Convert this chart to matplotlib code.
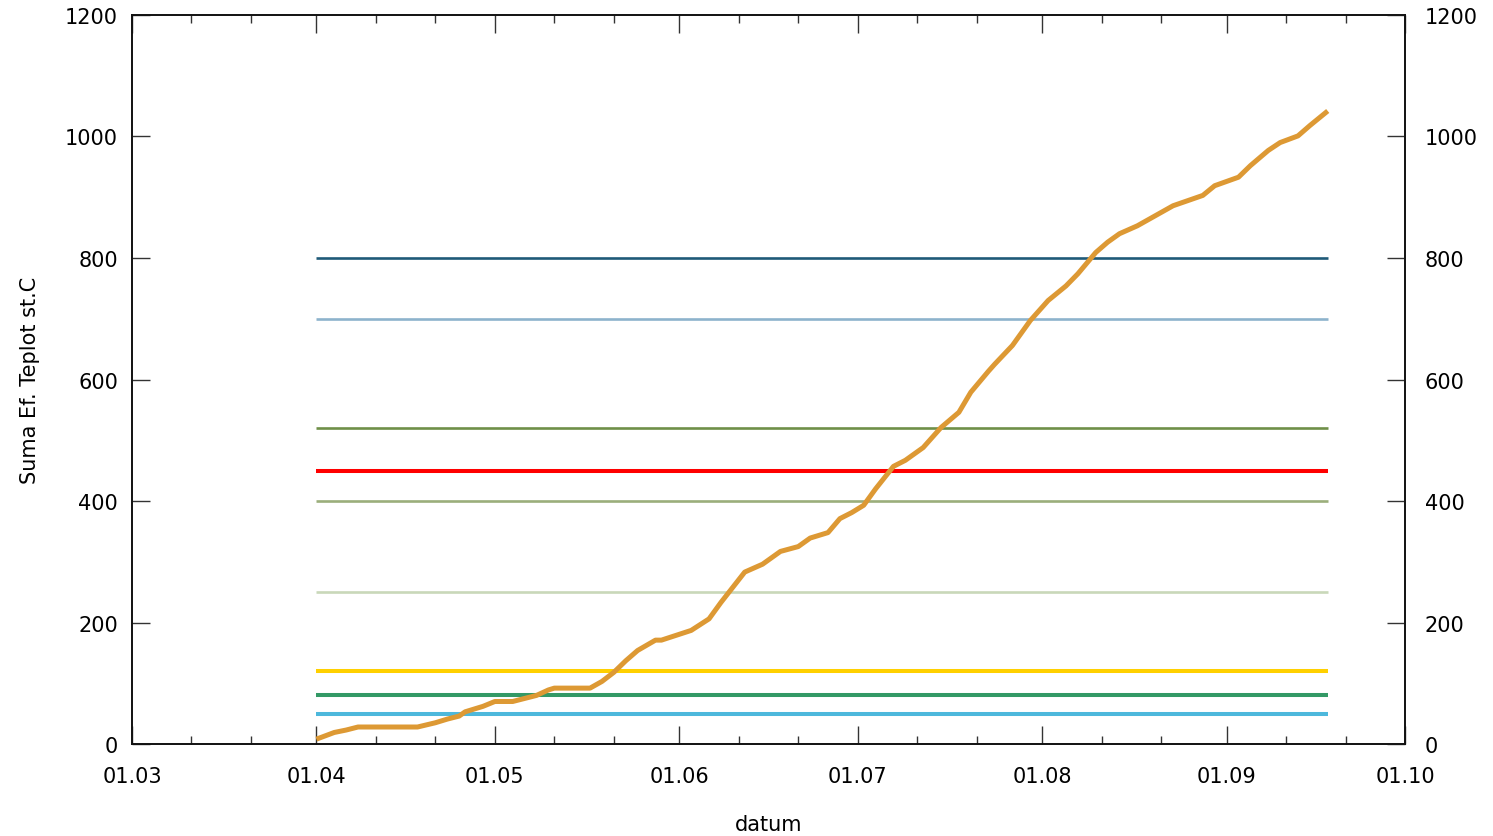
import matplotlib
matplotlib.use("Agg")
import matplotlib.pyplot as plt
import matplotlib.dates as mdates
import numpy as np
import pandas as pd

plt.rcParams["font.family"] = ["DejaVu Sans"]

# cumulative effective temperature sum
sum_dates = ["04-01", "04-04", "04-06", "04-08", "04-18", "04-21", "04-23", "04-25",
             "04-26", "04-29", "05-01", "05-04", "05-08", "05-10", "05-11", "05-17",
             "05-19", "05-21", "05-23", "05-25", "05-28", "05-29", "06-03", "06-06",
             "06-08", "06-10", "06-12", "06-15", "06-18", "06-21", "06-23", "06-26",
             "06-28", "06-30", "07-02", "07-04", "07-07", "07-09", "07-12", "07-15",
             "07-18", "07-20", "07-23", "07-24", "07-27", "07-30", "08-02", "08-05",
             "08-07", "08-10", "08-12", "08-14", "08-17", "08-19", "08-23", "08-28",
             "08-30", "09-03", "09-05", "09-08", "09-10", "09-13", "09-15", "09-18"]
sum_values = [8, 19, 23, 28, 28, 35, 41, 46,
              53, 62, 70, 70, 80, 89, 92, 92,
              103, 118, 137, 154, 171, 171, 187, 206,
              233, 258, 283, 296, 317, 325, 339, 348,
              371, 381, 393, 420, 457, 467, 488, 521,
              546, 579, 614, 625, 656, 697, 730, 754,
              774, 809, 826, 840, 853, 864, 886, 903,
              919, 933, 952, 977, 990, 1001, 1018, 1042]

# threshold lines
levels = [800, 700, 520, 450, 400, 250, 120, 80, 50]
level_colors = ["#1f5a78", "#8db3cc", "#6f8f48", "#ff0000", "#9bae7b",
                "#c9d8b9", "#ffd000", "#339966", "#4db8dc"]
level_widths = [1.9, 1.9, 1.9, 2.9, 1.9, 1.9, 2.9, 2.9, 2.9]
level_start = "04-01"
level_end = "09-18"

YEAR = "2019-"
x = pd.to_datetime([YEAR + d for d in sum_dates])

fig = plt.figure(figsize=(14.93, 8.37), dpi=100)
ax = fig.add_axes([0.0884, 0.1099, 0.8527, 0.871])

for lv, c, lw in zip(levels, level_colors, level_widths):
    ax.plot(pd.to_datetime([YEAR + level_start, YEAR + level_end]), [lv, lv],
            color=c, lw=lw, solid_capstyle="butt")

ax.plot(x, sum_values, color="#dd9934", lw=3.6,
        solid_joinstyle="round", solid_capstyle="butt")

ax.set_xlim(pd.Timestamp(YEAR + "03-01"), pd.Timestamp(YEAR + "10-01"))
ax.set_ylim(0, 1200)
ax.set_yticks(np.arange(0, 1201, 200))

ax.xaxis.set_major_locator(mdates.MonthLocator())
ax.xaxis.set_major_formatter(mdates.DateFormatter("%d.%m"))
ax.xaxis.set_minor_locator(mdates.DayLocator(bymonthday=[11, 21]))

ax.tick_params(axis="both", which="both", direction="in", top=True, right=False,
               labelsize=15, color="#333333", width=1.0)
ax.tick_params(axis="x", which="major", length=13, pad=16)
ax.tick_params(axis="x", which="minor", length=6)
ax.tick_params(axis="y", which="major", length=13, pad=10)

# right axis repeats the same scale
ax2 = ax.twinx()
ax2.set_ylim(ax.get_ylim())
ax2.set_yticks(np.arange(0, 1201, 200))
ax2.tick_params(axis="y", direction="in", length=13, pad=14, labelsize=15,
                color="#333333", width=1.0)

for a in (ax, ax2):
    for s in a.spines.values():
        s.set_linewidth(1.2)
        s.set_color("#111111")

ax.set_xlabel("datum", fontsize=15, labelpad=20)
ax.set_ylabel("Suma Ef. Teplot st.C", fontsize=15, labelpad=18)

fig.savefig("out.png", dpi=100)
